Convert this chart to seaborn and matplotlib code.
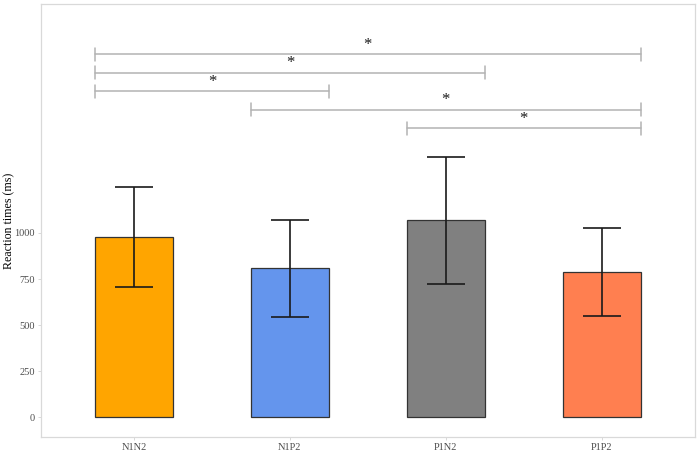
import numpy as np
import pandas as pd
import matplotlib
matplotlib.use("Agg")
import matplotlib.pyplot as plt
import seaborn as sns

# ---- data ----
conditions = ["N1N2", "N1P2", "P1N2", "P1P2"]
mean_rt = [977, 808, 1069, 788]
sd_rt = [272, 263, 346, 241]
bar_colors = ["#FFA500", "#6495ED", "#808080", "#FF7F50"]

# significance brackets: (first, second, height in ms, label)
pair_a = ["N1N2", "N1N2", "N1N2", "N1P2", "P1N2"]
pair_b = ["P1P2", "P1N2", "N1P2", "P1P2", "P1P2"]
bracket_y = [1970, 1870, 1770, 1670, 1570]
bracket_label = ["*", "*", "*", "*", "*"]

df = pd.DataFrame({"condition": conditions, "rt": mean_rt, "sd": sd_rt})

sns.set_style("white")
plt.rcParams["font.family"] = ["Liberation Serif", "DejaVu Serif"]

fig = plt.figure(figsize=(7, 4.67), dpi=100)
ax = fig.add_axes([0.058, 0.064, 0.935, 0.927])

sns.barplot(data=df, x="condition", y="rt", hue="condition", palette=bar_colors,
            order=conditions, hue_order=conditions, width=0.5, errorbar=None,
            saturation=1, edgecolor="#333333", linewidth=0.9, legend=False, ax=ax)

ax.errorbar(np.arange(len(conditions)), df["rt"], yerr=df["sd"], fmt="none",
            ecolor="#1a1a1a", elinewidth=1.2, capsize=14, capthick=1.2, zorder=5)

# brackets, spanning from the left edge of one bar to the right edge of the other
bars = {c: p for c, p in zip(conditions, ax.patches)}
tick_h = 35
for a, b, y, lab in zip(pair_a, pair_b, bracket_y, bracket_label):
    x0 = bars[a].get_x()
    x1 = bars[b].get_x() + bars[b].get_width()
    ax.plot([x0, x1], [y, y], color="#b3b3b3", lw=1.1, zorder=4)
    ax.plot([x0, x0], [y - tick_h, y + tick_h], color="#b3b3b3", lw=1.1, zorder=4)
    ax.plot([x1, x1], [y - tick_h, y + tick_h], color="#b3b3b3", lw=1.1, zorder=4)
    ax.text((x0 + x1) / 2, y + 8, lab, ha="center", va="bottom", fontsize=12, color="#1a1a1a")

ax.set_xlim(-0.6, 3.6)
ax.set_ylim(-109, 2243)
ax.set_yticks([0, 250, 500, 750, 1000])
ax.set_xlabel("")
ax.set_ylabel("Reaction times (ms)", fontsize=8.6, color="black")
ax.yaxis.set_label_coords(-0.039, 0.5)

for s in ax.spines.values():
    s.set_color("#d9d9d9")
    s.set_linewidth(0.9)
ax.tick_params(axis="both", which="major", length=2.5, width=0.7, color="#d9d9d9",
               labelsize=7.5, labelcolor="#4d4d4d", pad=1.5, left=True, bottom=True)
ax.grid(False)

fig.savefig("out.png", dpi=100)
